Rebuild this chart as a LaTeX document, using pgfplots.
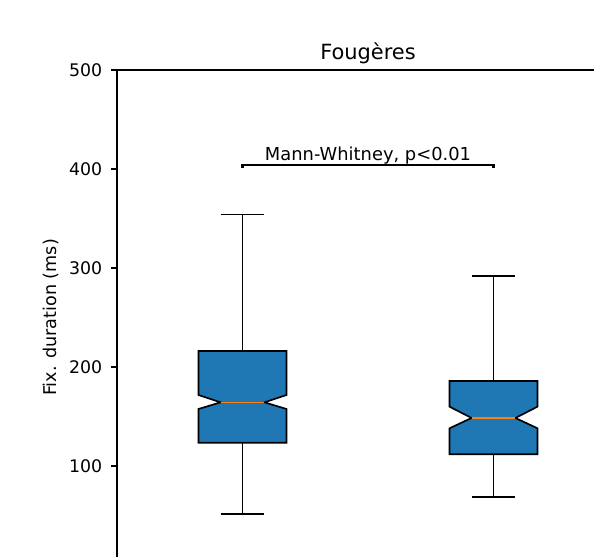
\documentclass[border=0pt]{standalone}
\usepackage{fontspec}
\setmainfont{DejaVu Sans}
\usepackage{pgfplots}
\pgfplotsset{compat=1.18}
\definecolor{mplblue}{HTML}{1F77B4}
\definecolor{mplorange}{HTML}{FF7F0E}
\begin{document}
\begin{tikzpicture}
\useasboundingbox (0,0) rectangle (445.5pt,417.75pt);
\clip (0,0) rectangle (445.5pt,417.75pt);
\begin{axis}[
  at={(87.75pt,-6pt)}, anchor=south west,
  scale only axis, width=376.5pt, height=371.25pt,
  xmin=0.5, xmax=2.5, ymin=0, ymax=500,
  clip=false,
  xtick=\empty,
  ytick={100,200,300,400,500},
  tick align=outside, ytick pos=left,
  major tick length=4.4pt,
  tick style={black, line width=1pt},
  axis line style={line width=1pt},
  /pgf/number format/assume math mode=true,
  yticklabel style={font=\fontsize{13}{15}\selectfont, inner sep=0pt, xshift=-6.5pt},
  line join=miter,
]
% box 1 (notched)
\addplot[fill=mplblue, draw=black, line width=1.25pt] coordinates {
 (0.825,123.5) (1.175,123.5) (1.175,157.6) (1.0875,164.3) (1.175,171.7)
 (1.175,216.2) (0.825,216.2) (0.825,171.7) (0.9125,164.3) (0.825,157.6)} --cycle;
\addplot[draw=mplorange, line width=1.25pt] coordinates {(0.9125,164.3) (1.0875,164.3)};
\addplot[draw=black, line width=1.25pt] coordinates {(1,216.2) (1,354.2)};
\addplot[draw=black, line width=1.25pt] coordinates {(0.9125,354.2) (1.0875,354.2)};
\addplot[draw=black, line width=1.25pt] coordinates {(1,123.5) (1,51.8)};
\addplot[draw=black, line width=1.25pt] coordinates {(0.9125,51.8) (1.0875,51.8)};
% box 2 (notched)
\addplot[fill=mplblue, draw=black, line width=1.25pt] coordinates {
 (1.825,111.8) (2.175,111.8) (2.175,138.1) (2.0875,148.5) (2.175,159.9)
 (2.175,185.9) (1.825,185.9) (1.825,159.9) (1.9125,148.5) (1.825,138.1)} --cycle;
\addplot[draw=mplorange, line width=1.25pt] coordinates {(1.9125,148.5) (2.0875,148.5)};
\addplot[draw=black, line width=1.25pt] coordinates {(2,185.9) (2,291.9)};
\addplot[draw=black, line width=1.25pt] coordinates {(1.9125,291.9) (2.0875,291.9)};
\addplot[draw=black, line width=1.25pt] coordinates {(2,111.8) (2,68.7)};
\addplot[draw=black, line width=1.25pt] coordinates {(1.9125,68.7) (2.0875,68.7)};
% significance bar
\addplot[draw=black, line width=2pt] coordinates {(1,401) (1,404) (2,404) (2,401)};
\node[anchor=base, font=\fontsize{13.4}{16}\selectfont, inner sep=0pt] at ([yshift=3.2pt]axis cs:1.5,404) {Mann-Whitney, p<0.01};
\node[anchor=base, font=\fontsize{15.7}{18}\selectfont, inner sep=0pt] at ([yshift=8pt]rel axis cs:0.5,1) {Fougères};
\node[anchor=base, rotate=90, font=\fontsize{13.2}{16}\selectfont, inner sep=0pt] at ([xshift=-45pt]rel axis cs:0,0.5) {Fix. duration (ms)};
\end{axis}
\end{tikzpicture}
\end{document}
